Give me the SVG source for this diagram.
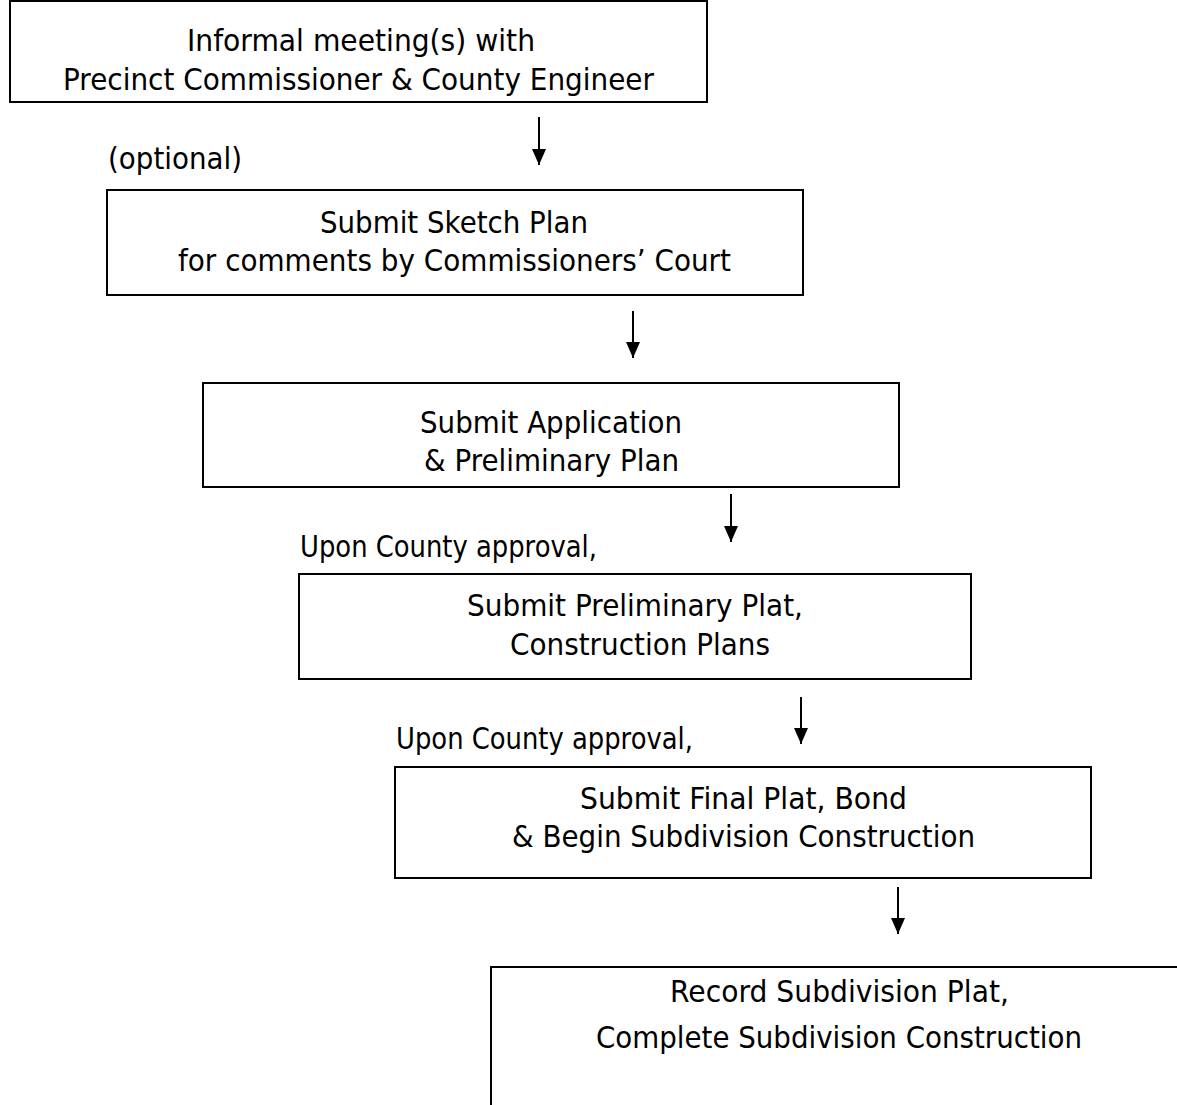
<svg xmlns="http://www.w3.org/2000/svg" width="1177" height="1105" viewBox="0 0 1177 1105">
<style>
.box{fill:#fff;stroke:#000;stroke-width:2}
.t{font-family:"DejaVu Sans","Liberation Sans",sans-serif;font-size:30px;fill:#000}
.c{stroke:#000;stroke-width:2;fill:none}
</style>
<defs>
<marker id="ah" markerWidth="16" markerHeight="14" refX="16" refY="7" orient="auto" markerUnits="userSpaceOnUse" viewBox="0 0 16 14">
<path d="M0,0 L16,7 L0,14 Z" fill="#000"/>
</marker>
</defs>
<rect width="1177" height="1105" fill="#fff"/>
<g id="connectors">
<line class="c" x1="539" y1="117" x2="539" y2="165" marker-end="url(#ah)"/>
<line class="c" x1="633" y1="311" x2="633" y2="358" marker-end="url(#ah)"/>
<line class="c" x1="731" y1="494" x2="731" y2="542" marker-end="url(#ah)"/>
<line class="c" x1="801" y1="697" x2="801" y2="744" marker-end="url(#ah)"/>
<line class="c" x1="898" y1="887" x2="898" y2="934" marker-end="url(#ah)"/>
</g>
<g id="n1">
<rect class="box" x="10" y="1" width="697" height="101"/>
<text class="t" x="187" y="51" textLength="348" lengthAdjust="spacingAndGlyphs">Informal meeting(s) with</text>
<text class="t" x="63" y="90" textLength="591" lengthAdjust="spacingAndGlyphs">Precinct Commissioner &amp; County Engineer</text>
</g>
<g id="label-optional">
<text class="t" x="108" y="169" textLength="134" lengthAdjust="spacingAndGlyphs">(optional)</text>
</g>
<g id="n2">
<rect class="box" x="107" y="190" width="696" height="105"/>
<text class="t" x="320" y="233" textLength="268" lengthAdjust="spacingAndGlyphs">Submit Sketch Plan</text>
<text class="t" x="178" y="271" textLength="553" lengthAdjust="spacingAndGlyphs">for comments by Commissioners’ Court</text>
</g>
<g id="n3">
<rect class="box" x="203" y="383" width="696" height="104"/>
<text class="t" x="420" y="433" textLength="262" lengthAdjust="spacingAndGlyphs">Submit Application</text>
<text class="t" x="424" y="471" textLength="255" lengthAdjust="spacingAndGlyphs">&amp; Preliminary Plan</text>
</g>
<g id="label-approval1">
<text class="t" x="300" y="557" textLength="297" lengthAdjust="spacingAndGlyphs">Upon County approval,</text>
</g>
<g id="n4">
<rect class="box" x="299" y="574" width="672" height="105"/>
<text class="t" x="467" y="616" textLength="336" lengthAdjust="spacingAndGlyphs">Submit Preliminary Plat,</text>
<text class="t" x="510" y="655" textLength="260" lengthAdjust="spacingAndGlyphs">Construction Plans</text>
</g>
<g id="label-approval2">
<text class="t" x="396" y="749" textLength="297" lengthAdjust="spacingAndGlyphs">Upon County approval,</text>
</g>
<g id="n5">
<rect class="box" x="395" y="767" width="696" height="111"/>
<text class="t" x="580" y="809" textLength="327" lengthAdjust="spacingAndGlyphs">Submit Final Plat, Bond</text>
<text class="t" x="512" y="847" textLength="463" lengthAdjust="spacingAndGlyphs">&amp; Begin Subdivision Construction</text>
</g>
<g id="n6">
<rect class="box" x="491" y="967" width="700" height="160"/>
<text class="t" x="670" y="1002" textLength="339" lengthAdjust="spacingAndGlyphs">Record Subdivision Plat,</text>
<text class="t" x="596" y="1048" textLength="486" lengthAdjust="spacingAndGlyphs">Complete Subdivision Construction</text>
</g>
</svg>
